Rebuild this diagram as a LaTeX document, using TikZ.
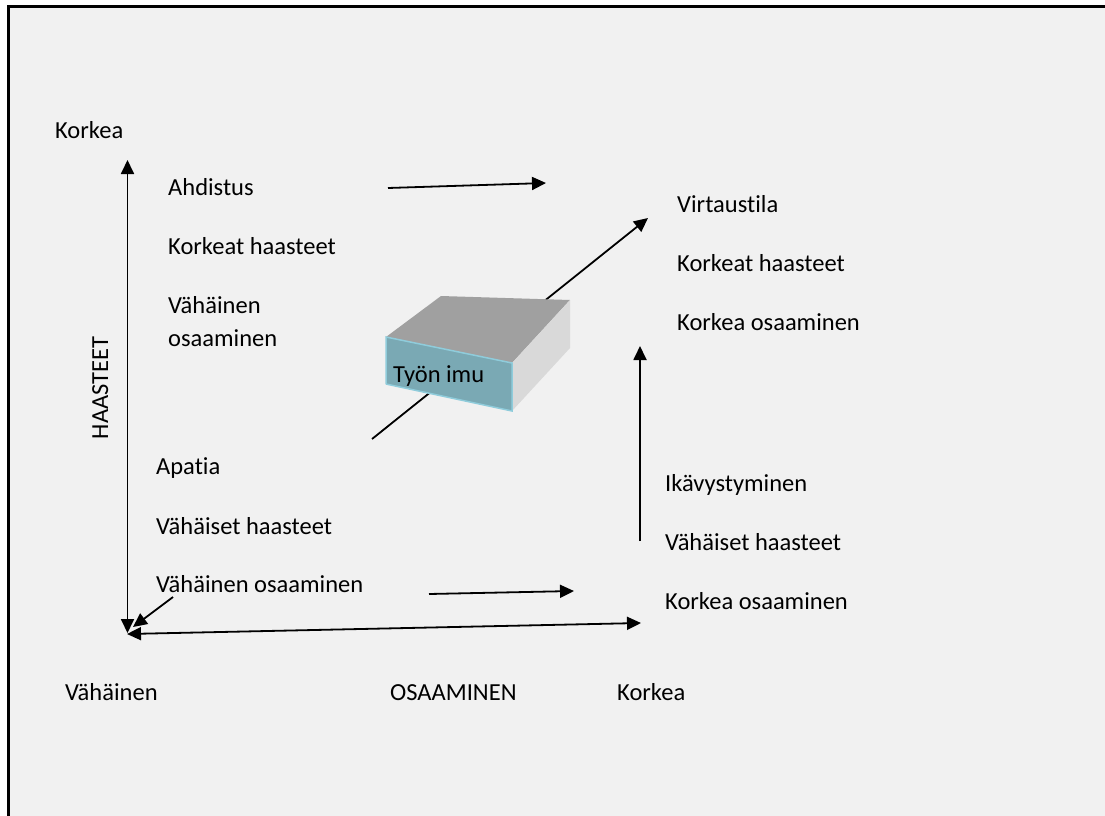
\documentclass[tikz,border=0pt]{standalone}
\usepackage{fontspec}
\setmainfont{Carlito}[Ligatures=NoCommon,Contextuals=NoAlternate]
\usetikzlibrary{arrows.meta}

\definecolor{paper}{HTML}{F1F1F1}
\definecolor{boxtop}{HTML}{A0A0A0}
\definecolor{boxside}{HTML}{D9D9D9}
\definecolor{boxfront}{HTML}{7AA9B4}
\definecolor{boxedge}{HTML}{8FCCDB}

\tikzset{
  lbl/.style={anchor=base west, inner sep=0pt, font=\fontsize{24.5}{29}\selectfont},
  arr/.style={line width=1.8pt, -{Triangle[length=14pt,width=13pt]}},
  axis/.style={line width=1.8pt, {Triangle[length=14pt,width=13pt]}-{Triangle[length=14pt,width=13pt]}},
}

\begin{document}
\begin{tikzpicture}[x=1pt,y=-1pt]
    \useasboundingbox (0,0) rectangle (1105,816);
    \fill[paper] (8.5,6.5) rectangle (1105,816);
    \draw[line width=2.5pt] (8.5,816) -- (8.5,6.5) -- (1105,6.5);

    % akselit
    \coordinate (yTop) at (127.5,160);
    \coordinate (yBot) at (127.5,633);
    \coordinate (xBeg) at (127,634);
    \coordinate (xEnd) at (641,623);
    \draw[axis] (yBot) -- (yTop);
    \draw[axis] (xBeg) -- (xEnd);
    \coordinate (dBeg) at (173,597);
    \coordinate (dEnd) at (133,627);
    \draw[arr] (dBeg) -- (dEnd);

    % nuolet
    \coordinate (aBeg) at (388,188);
    \coordinate (aEnd) at (546,183);
    \coordinate (bBeg) at (429,594);
    \coordinate (bEnd) at (574,591);
    \coordinate (cBeg) at (640,541);
    \coordinate (cEnd) at (640,346);
    \coordinate (vBeg) at (372,439);
    \coordinate (vEnd) at (648,218);
    \draw[arr] (aBeg) -- (aEnd);
    \draw[arr] (bBeg) -- (bEnd);
    \draw[arr] (cBeg) -- (cEnd);
    \draw[arr] (vBeg) -- (vEnd);

    % laatikko
    \coordinate (F1) at (386,337);
    \coordinate (F2) at (512,363);
    \coordinate (F3) at (512,411);
    \coordinate (F4) at (386,384);
    \coordinate (B1) at (441,296);
    \coordinate (B2) at (570,300);
    \coordinate (B3) at (570,348);
    \fill[boxtop] (F1) -- (B1) -- (B2) -- (F2) -- cycle;
    \fill[boxside] (F2) -- (B2) -- (B3) -- (F3) -- cycle;
    \fill[boxfront] (F1) -- (F2) -- (F3) -- (F4) -- cycle;
    \draw[boxedge, line width=1.5pt] (F4) -- (F1) -- (F2) -- (F3) -- (F4);
    \node[lbl] (imu) at (393,382) {Työn imu};

    \foreach \nm/\x/\y/\t in {
        kTop/55/138/Korkea,
        ahd/168/195/Ahdistus,
        khA/168/254/Korkeat haasteet,
        vhA/168/313/Vähäinen,
        osA/168/346/osaaminen,
        apa/156/474/Apat\kern0pt ia,
        vhB/156/534/Vähäiset haasteet,
        voB/156/592/Vähäinen osaaminen,
        vBot/65/700/Vähäinen,
        osa/390/700/OSAAMINEN,
        kBot/617/700/Korkea,
        vir/677/212/Virtaust\kern0pt ila,
        khC/677/271/Korkeat haasteet,
        koC/677/330/Korkea osaaminen,
        ika/665/491/Ikävystyminen,
        vhD/665/550/Vähäiset haasteet,
        koD/665/609/Korkea osaaminen} {
        \node[lbl] (\nm) at (\x,\y) {\t};
    }
    \node[lbl, anchor=base, rotate=90] (haa) at (108,388) {HAASTEET};
\end{tikzpicture}
\end{document}
